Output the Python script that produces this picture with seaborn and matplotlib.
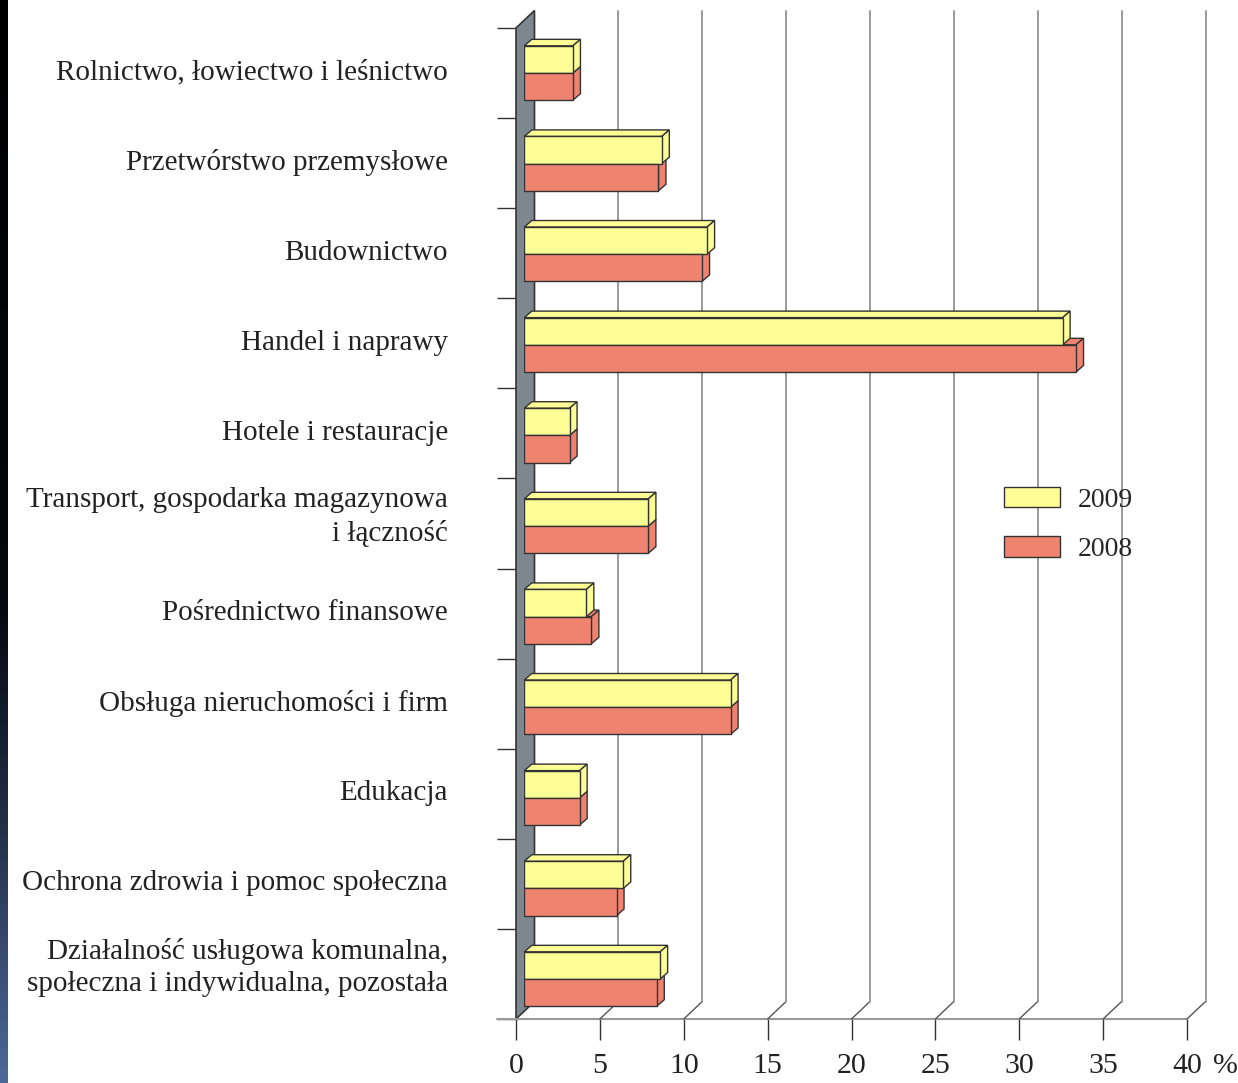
import numpy as np
import pandas as pd
import seaborn as sns
import matplotlib.pyplot as plt
from matplotlib.patches import Polygon, Patch
from matplotlib.lines import Line2D
from matplotlib.transforms import IdentityTransform

# data (% share)
sectors = [
    "Rolnictwo, łowiectwo i leśnictwo",
    "Przetwórstwo przemysłowe",
    "Budownictwo",
    "Handel i naprawy",
    "Hotele i restauracje",
    "Transport, gospodarka magazynowa\ni łączność",
    "Pośrednictwo finansowe",
    "Obsługa nieruchomości i firm",
    "Edukacja",
    "Ochrona zdrowia i pomoc społeczna",
    "Działalność usługowa komunalna,\nspołeczna i indywidualna, pozostała",
]
share_2009 = [2.9, 8.2, 10.9, 32.1, 2.7, 7.4, 3.7, 12.3, 3.3, 5.9, 8.1]
share_2008 = [2.9, 8.0, 10.6, 32.9, 2.7, 7.4, 4.0, 12.3, 3.3, 5.5, 7.9]
years = ["2009", "2008"]
xticks = [0, 5, 10, 15, 20, 25, 30, 35, 40]

df = pd.DataFrame({
    "sektor": sectors * 2,
    "rok": [years[0]] * len(sectors) + [years[1]] * len(sectors),
    "udzial": share_2009 + share_2008,
})

yellow = "#FDFD96"
red = "#F08270"
wall = "#7E878F"
edge = "#333333"
txt = "#222222"

sns.set_style("white")
plt.rcParams["font.family"] = ["Liberation Serif", "DejaVu Serif"]

W, H = 1238, 1083
fig = plt.figure(figsize=(W / 100, H / 100), dpi=100)


def frac(l, t, r, b):
    return [l / W, 1 - b / H, (r - l) / W, (b - t) / H]


# front plane (floor, ticks, labels) and bar plane
axf = fig.add_axes(frac(516, 28, 1187, 1019))
ax = fig.add_axes(frac(524.3, 27.7, 1195.1, 1024.3))
axf.set_zorder(1)
ax.set_zorder(2)

n = len(sectors)
axf.set_xlim(0, 40)
axf.set_ylim(n, 0)
for s in axf.spines.values():
    s.set_visible(False)
axf.set_xticks(xticks)
axf.set_xticklabels([str(t) for t in xticks], fontsize=21.5, color=txt)
axf.tick_params(axis="x", bottom=True, direction="out", length=15, width=1,
                color="#333333", pad=9.5)
axf.set_yticks(np.arange(n + 1))
axf.set_yticklabels([])
axf.tick_params(axis="y", which="major", left=True, direction="out", length=13.5,
                width=1, color="#333333")
# two-line labels sit a little higher in the original
label_pos = np.arange(n) + np.array([0.46 if "\n" not in s else 0.36 for s in sectors])
axf.set_yticks(label_pos, minor=True)
axf.set_yticklabels(sectors, minor=True, fontsize=21, color=txt, linespacing=1.3)
axf.tick_params(axis="y", which="minor", left=True, length=0, pad=49)
axf.annotate("%", xy=(40, n), xytext=(19, -24.5), textcoords="offset points",
             fontsize=21.5, color=txt, ha="left", va="top", annotation_clip=False)

# 3d wall, floor and gridlines (pixel offsets for depth)
dxw, dyw = 18.5, 17.5
ident = IdentityTransform()
fl = axf.transData.transform((0, n))
tl = axf.transData.transform((0, 0))
axf.add_patch(Polygon([tl, (tl[0] + dxw, tl[1] + dyw), (fl[0] + dxw, fl[1] + dyw), fl],
                      closed=True, facecolor=wall, edgecolor=edge, lw=1.2,
                      transform=ident, clip_on=False, zorder=2))
axf.add_line(Line2D([fl[0] - 19, axf.transData.transform((40, n))[0]], [fl[1], fl[1]],
                    color="#999999", lw=1.5, transform=ident, clip_on=False))
for v in xticks[1:]:
    f = axf.transData.transform((v, n))
    axf.add_line(Line2D([f[0], f[0] + dxw], [f[1], f[1] + dyw], color="#555555", lw=1,
                        transform=ident, clip_on=False))
    axf.add_line(Line2D([f[0] + dxw, f[0] + dxw], [f[1] + dyw, tl[1] + dyw], color="#9a9a9a",
                        lw=1.4, transform=ident, clip_on=False))

# bars
sns.barplot(data=df, x="udzial", y="sektor", hue="rok", hue_order=years, order=sectors,
            palette=[yellow, red], orient="h", width=0.6, edgecolor=edge, linewidth=1,
            saturation=1, legend=False, ax=ax)
ax.set_xlim(0, 40)
ax.set_ylim(n - 0.5, -0.5)
ax.axis("off")

dx, dy = 7.5, 6.5
for k, (cont, col) in enumerate(zip(ax.containers, [yellow, red])):
    z = 2 if k == 0 else 1
    for bar in cont:
        bar.set_zorder(3)
        x0, y0 = ax.transData.transform((bar.get_x(), bar.get_y()))
        x1, y1 = ax.transData.transform((bar.get_x() + bar.get_width(), bar.get_y() + bar.get_height()))
        ytop, ybot = max(y0, y1), min(y0, y1)
        top = [(x0, ytop), (x1, ytop), (x1 + dx, ytop + dy), (x0 + dx, ytop + dy)]
        side = [(x1, ybot), (x1, ytop), (x1 + dx, ytop + dy), (x1 + dx, ybot + dy)]
        for pts in (top, side):
            ax.add_patch(Polygon(pts, closed=True, facecolor=col, edgecolor=edge, lw=1,
                                 transform=ident, clip_on=False, zorder=z))

# legend
handles = [Patch(facecolor=c, edgecolor=edge, lw=1) for c in [yellow, red]]
fig.legend(handles, years, loc="upper left", bbox_to_anchor=(1004 / W, 1 - 487 / H),
           frameon=False, fontsize=20, handlelength=2.0, handleheight=0.75,
           handletextpad=0.65, labelspacing=0.85, borderpad=0, borderaxespad=0)

# dark strip on the left edge
strip = fig.add_axes([0, 0, 8 / W, 1])
t = np.linspace(0, 1, 300)
nodes = [0, 0.55, 0.75, 1]
cols = np.array([[0, 0, 0], [0.02, 0.03, 0.05], [0.13, 0.17, 0.26], [0.30, 0.41, 0.60]])
grad = np.stack([np.interp(t, nodes, cols[:, i]) for i in range(3)], axis=1)
strip.imshow(grad[:, None, :], aspect="auto", extent=(0, 1, 0, 1))
strip.axis("off")

fig.savefig("out.png", dpi=100)
